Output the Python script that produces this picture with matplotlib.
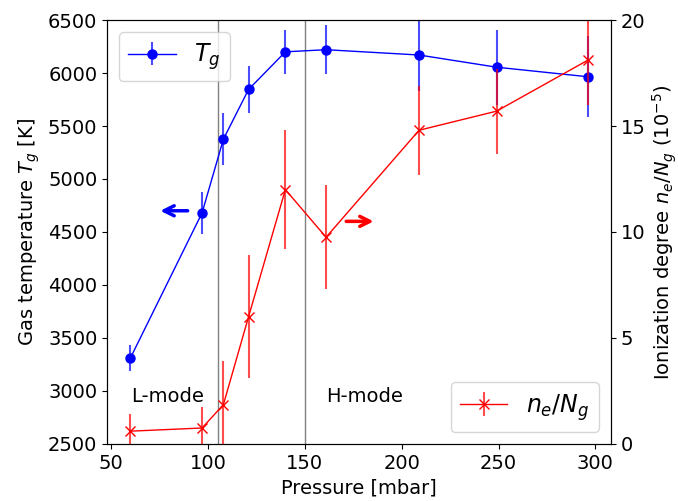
import numpy as np
import matplotlib.pyplot as plt

plt.rcParams.update({
    'font.size': 14,
    'xtick.labelsize': 14,
    'ytick.labelsize': 14,
    'legend.fontsize': 17,
})

# gas temperature from the emission spectra
p_T = [60, 97, 108, 121, 140, 161, 209, 249, 296]
T_g = [3310, 4680, 5375, 5845, 6200, 6220, 6170, 6055, 5965]
T_err = [120, 195, 245, 225, 210, 230, 340, 355, 380]

# ionization degree (units of 1e-5)
p_n = [60, 97, 108, 121, 140, 161, 209, 249, 296]
ion = [0.6, 0.75, 1.85, 6.0, 12.0, 9.75, 14.8, 15.7, 18.1]
ion_err = [0.8, 1.0, 2.05, 2.9, 2.8, 2.45, 2.1, 2.0, 2.1]

p_trans = [105, 150]

fig, ax = plt.subplots(figsize=(6.78, 5.01), dpi=100)
fig.subplots_adjust(left=0.158, right=0.901, top=0.96, bottom=0.114)

ax.errorbar(p_T, T_g, yerr=T_err, color='blue', ecolor=(0, 0, 1, 0.7),
            marker='o', ms=6.5, lw=1, elinewidth=1.5, label=r'$T_g$')
for p in p_trans:
    ax.axvline(p, color='gray', lw=1)
ax.set_xlim(48, 308)
ax.set_ylim(2500, 6500)
ax.set_xlabel('Pressure [mbar]')
ax.set_ylabel(r'Gas temperature $T_g$ [K]')
ax.set_xticks([50, 100, 150, 200, 250, 300])
ax.legend(loc='upper left', handlelength=2.0)

ax.text(60.5, 2900, 'L-mode', fontsize=14)
ax.text(161, 2900, 'H-mode', fontsize=14)
ax.annotate('', xy=(74, 4700), xytext=(91, 4700),
            arrowprops=dict(arrowstyle='->', color='blue', lw=2.5, mutation_scale=18))
ax.annotate('', xy=(187, 4600), xytext=(170, 4600),
            arrowprops=dict(arrowstyle='->', color='red', lw=2.5, mutation_scale=18))

ax2 = ax.twinx()
ax2.errorbar(p_n, ion, yerr=ion_err, color='red', ecolor=(1, 0, 0, 0.7),
             marker='x', ms=7, lw=1, elinewidth=1.5, label=r'$n_e/N_g$')
ax2.set_ylim(0, 20)
ax2.set_yticks([0, 5, 10, 15, 20])
ax2.set_ylabel(r'Ionization degree $n_e/N_g$ $(10^{-5})$')
ax2.legend(loc='lower right', handlelength=2.0)

fig.savefig('out.png', dpi=100)
